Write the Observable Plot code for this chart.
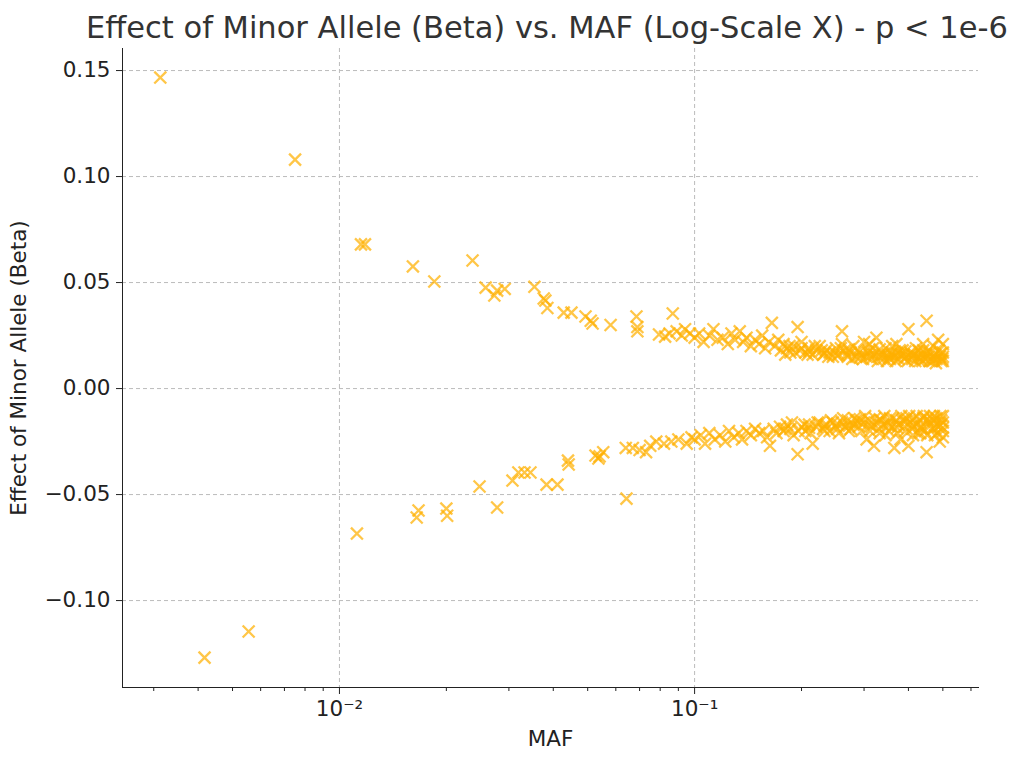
<!DOCTYPE html>
<html><head><meta charset="utf-8">
<script src="https://cdn.jsdelivr.net/npm/d3@7"></script>
<script src="https://cdn.jsdelivr.net/npm/@observablehq/plot@0.6"></script>
<style>
body{margin:0;background:#fff;font-family:"DejaVu Sans",sans-serif;}
#title{height:45px;line-height:56px;font-size:30.5px;color:#333;padding-left:86px;white-space:nowrap;}
svg text{font-size:21.5px !important;}
</style></head><body>
<div id="title">Effect of Minor Allele (Beta) vs. MAF (Log-Scale X) - p &lt; 1e-6</div>
<div id="chart"></div>
<script>
const sparse = [[0.00313,0.1467],[0.00417,-0.1269],[0.00555,-0.1146],[0.0075,0.108],[0.0115,0.068],[0.0118,0.068],[0.0161,0.0576],[0.0185,0.0505],[0.0237,0.0604],[0.0258,0.0476],[0.0273,0.0439],[0.0278,0.0462],[0.0292,0.047],[0.0354,0.048],[0.0376,0.0425],[0.038,0.0415],[0.0385,0.038],[0.0428,0.0358],[0.045,0.0358],[0.0493,0.034],[0.051,0.032],[0.0516,0.0307],[0.058,0.030],[0.0686,0.034],[0.069,0.029],[0.069,0.027],[0.0794,0.0255],[0.0826,0.0245],[0.0868,0.0354],[0.089,0.027],[0.094,0.028],[0.085,0.026],[0.092,0.025],[0.097,0.026],
[0.0112,-0.0684],[0.0165,-0.0608],[0.0167,-0.0575],[0.02,-0.0566],[0.0201,-0.06],[0.0248,-0.0462],[0.0278,-0.0561],[0.0307,-0.0434],[0.0319,-0.0396],[0.0332,-0.0396],[0.0345,-0.0396],[0.0383,-0.0453],[0.0411,-0.0453],[0.044,-0.034],[0.0442,-0.0358],[0.0526,-0.0316],[0.0536,-0.033],[0.0553,-0.030],[0.0643,-0.0519],[0.064,-0.028],[0.067,-0.028],[0.07,-0.029],[0.075,-0.027],[0.078,-0.025],[0.082,-0.026],[0.086,-0.025],[0.09,-0.024],[0.095,-0.026],[0.098,-0.023],[0.054,-0.032],[0.073,-0.030]];
const upper = [[0.1,0.024],[0.103,0.026],[0.106,0.022],[0.11,0.025],[0.113,0.028],[0.116,0.023],[0.12,0.024],[0.124,0.021],[0.127,0.026],[0.13,0.023],[0.134,0.027],[0.137,0.022],[0.14,0.024],[0.144,0.02],[0.148,0.023],[0.152,0.021],[0.155,0.025],[0.158,0.019],[0.162,0.022],[0.165,0.031],[0.168,0.02],[0.172,0.023],[0.175,0.018],[0.178,0.021],[0.182,0.019],[0.186,0.017],[0.19,0.02],[0.195,0.029],[0.198,0.018],[0.2,0.022],[0.205,0.017],[0.21,0.019],[0.215,0.016],[0.22,0.018],[0.225,0.02],[0.23,0.016],[0.235,0.018],[0.24,0.017],[0.245,0.015],[0.25,0.019],[0.255,0.016],[0.26,0.027],[0.265,0.018],[0.27,0.015],[0.275,0.017],[0.28,0.02],[0.285,0.015],[0.29,0.017],[0.295,0.016],[0.3,0.022],[0.305,0.015],[0.31,0.018],[0.315,0.014],[0.32,0.016],[0.325,0.024],[0.33,0.015],[0.335,0.017],[0.34,0.014],[0.345,0.019],[0.35,0.016],[0.355,0.014],[0.36,0.017],[0.365,0.015],[0.37,0.021],[0.375,0.014],[0.38,0.016],[0.385,0.018],[0.39,0.014],[0.395,0.015],[0.4,0.028],[0.405,0.017],[0.41,0.014],[0.415,0.016],[0.42,0.019],[0.425,0.015],[0.43,0.013],[0.435,0.016],[0.44,0.018],[0.445,0.014],[0.45,0.032],[0.455,0.015],[0.46,0.017],[0.465,0.013],[0.47,0.02],[0.475,0.016],[0.48,0.014],[0.485,0.023],[0.49,0.015],[0.495,0.013],[0.5,0.017],
[0.18,0.016],[0.185,0.02],[0.192,0.017],[0.2,0.019],[0.208,0.016],[0.218,0.02],[0.228,0.018],[0.238,0.015],[0.248,0.017],[0.258,0.019],[0.268,0.016],[0.278,0.014],[0.288,0.018],[0.298,0.014],[0.308,0.017],[0.318,0.019],[0.328,0.013],[0.338,0.016],[0.348,0.013],[0.358,0.016],[0.368,0.013],[0.378,0.018],[0.388,0.016],[0.398,0.013],[0.408,0.016],[0.418,0.013],[0.428,0.018],[0.438,0.013],[0.448,0.016],[0.458,0.013],[0.468,0.015],[0.478,0.012],[0.488,0.018],[0.498,0.014],[0.5,0.013],[0.5,0.021],
[0.21,0.0175],[0.232,0.0165],[0.252,0.0155],[0.272,0.0185],[0.292,0.0145],[0.312,0.0155],[0.332,0.0185],[0.352,0.0145],[0.372,0.0165],[0.392,0.0175],[0.412,0.0155],[0.432,0.0145],[0.452,0.0175],[0.472,0.0135],[0.492,0.0165],[0.5,0.015],[0.44,0.021],[0.36,0.02],[0.31,0.021],[0.26,0.021]];
const lower = [[0.1,-0.024],[0.104,-0.022],[0.107,-0.026],[0.11,-0.021],[0.114,-0.024],[0.118,-0.022],[0.122,-0.025],[0.125,-0.02],[0.129,-0.023],[0.133,-0.021],[0.136,-0.024],[0.14,-0.02],[0.144,-0.022],[0.148,-0.019],[0.152,-0.021],[0.156,-0.02],[0.16,-0.023],[0.163,-0.027],[0.167,-0.019],[0.17,-0.021],[0.174,-0.018],[0.178,-0.02],[0.182,-0.017],[0.186,-0.019],[0.19,-0.022],[0.195,-0.031],[0.2,-0.018],[0.205,-0.02],[0.21,-0.017],[0.215,-0.026],[0.22,-0.018],[0.225,-0.016],[0.23,-0.019],[0.235,-0.017],[0.24,-0.02],[0.245,-0.016],[0.25,-0.018],[0.255,-0.021],[0.26,-0.016],[0.265,-0.018],[0.27,-0.015],[0.275,-0.019],[0.28,-0.017],[0.285,-0.015],[0.29,-0.018],[0.295,-0.02],[0.3,-0.016],[0.305,-0.024],[0.31,-0.015],[0.315,-0.018],[0.32,-0.027],[0.325,-0.016],[0.33,-0.019],[0.335,-0.015],[0.34,-0.017],[0.345,-0.022],[0.35,-0.016],[0.355,-0.014],[0.36,-0.018],[0.365,-0.028],[0.37,-0.015],[0.375,-0.017],[0.38,-0.024],[0.385,-0.015],[0.39,-0.018],[0.395,-0.014],[0.4,-0.027],[0.405,-0.016],[0.41,-0.019],[0.415,-0.014],[0.42,-0.017],[0.425,-0.021],[0.43,-0.015],[0.435,-0.018],[0.44,-0.014],[0.445,-0.02],[0.45,-0.03],[0.455,-0.016],[0.46,-0.013],[0.465,-0.019],[0.47,-0.015],[0.475,-0.022],[0.48,-0.014],[0.485,-0.018],[0.49,-0.025],[0.495,-0.015],[0.5,-0.02],
[0.18,-0.019],[0.188,-0.016],[0.196,-0.02],[0.204,-0.017],[0.212,-0.021],[0.222,-0.016],[0.232,-0.02],[0.242,-0.015],[0.252,-0.019],[0.262,-0.014],[0.272,-0.02],[0.282,-0.014],[0.292,-0.016],[0.302,-0.013],[0.312,-0.02],[0.322,-0.014],[0.332,-0.021],[0.342,-0.013],[0.352,-0.02],[0.362,-0.014],[0.372,-0.021],[0.382,-0.013],[0.392,-0.02],[0.402,-0.013],[0.412,-0.022],[0.422,-0.013],[0.432,-0.021],[0.442,-0.013],[0.452,-0.022],[0.462,-0.016],[0.472,-0.013],[0.482,-0.021],[0.492,-0.013],[0.5,-0.016],[0.5,-0.023],[0.5,-0.013],
[0.21,-0.0185],[0.232,-0.0175],[0.252,-0.0165],[0.272,-0.0175],[0.292,-0.0145],[0.312,-0.0175],[0.332,-0.0145],[0.352,-0.0175],[0.372,-0.0185],[0.392,-0.0155],[0.412,-0.0175],[0.432,-0.0185],[0.452,-0.0145],[0.472,-0.0185],[0.492,-0.0175],[0.5,-0.0185]];
const majorX = [0.01, 0.1];
const minorX = [0.003,0.004,0.005,0.006,0.007,0.008,0.009,0.02,0.03,0.04,0.05,0.06,0.07,0.08,0.09,0.2,0.3,0.4,0.5,0.6];
const yTicks = [-0.10,-0.05,0,0.05,0.10,0.15];

const pts = [...sparse, ...upper, ...lower].map(([maf,beta])=>({maf,beta}));
const fmtY = d => (d<0?"\u2212":"") + Math.abs(d).toFixed(2);
const sup = {"-2":"\u207B\u00B2","-1":"\u207B\u00B9"};
const chart = Plot.plot({
  width:1028, height:717, marginLeft:122, marginRight:50, marginTop:3, marginBottom:75,
  style:{fontFamily:"DejaVu Sans, sans-serif", fontSize:"21.5px", color:"#222"},
  x:{type:"log", domain:[0.00245,0.63]},
  y:{type:"linear", domain:[-0.141,0.1604]},
  marks:[
    Plot.gridY(yTicks,{stroke:"#bbb", strokeOpacity:1, strokeDasharray:"4,3"}),
    Plot.gridX(majorX,{stroke:"#bbb", strokeOpacity:1, strokeDasharray:"4,3"}),
    Plot.dot(pts,{x:"maf", y:"beta", symbol:"times", r:5.5, stroke:"#FFB000", strokeOpacity:0.72, strokeWidth:2.3}),
    Plot.axisY(yTicks,{tickFormat:fmtY, tickSize:6, tickPadding:6, label:"Effect of Minor Allele (Beta)", labelAnchor:"center", labelArrow:"none", labelOffset:112}),
    Plot.axisX(majorX,{tickFormat:d=>"10"+sup[String(Math.round(Math.log10(d)))], tickSize:7, tickPadding:6, label:"MAF", labelAnchor:"center", labelArrow:"none", labelOffset:58}),
    Plot.axisX(minorX,{tickFormat:()=>"", tickSize:4, label:null}),
    Plot.frame({anchor:"left", stroke:"#222"}),
    Plot.frame({anchor:"bottom", stroke:"#222"})
  ]
});
document.getElementById("chart").appendChild(chart);
</script></body></html>
